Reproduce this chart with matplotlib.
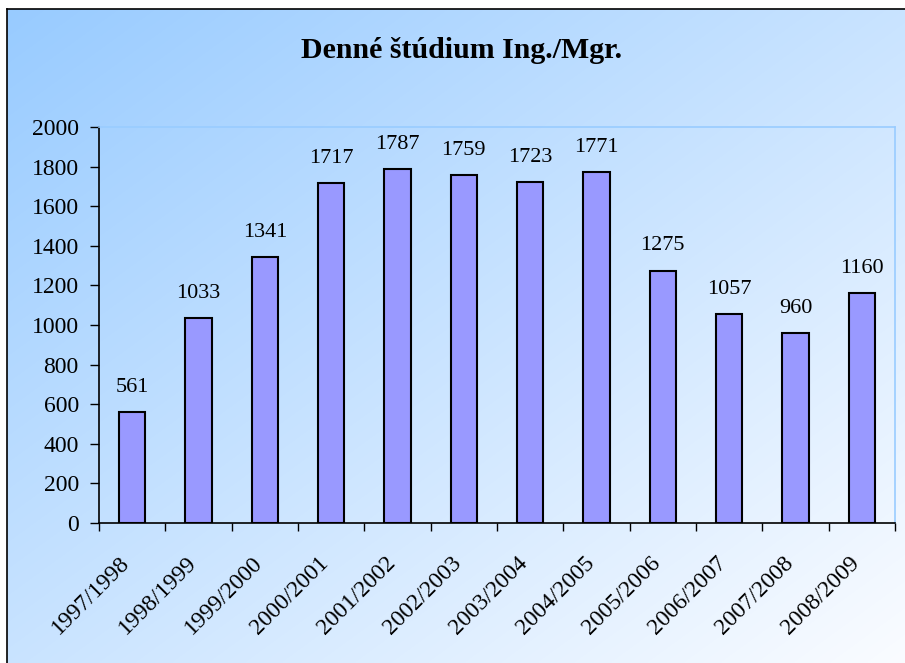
import matplotlib
matplotlib.use("Agg")
import matplotlib.pyplot as plt
import matplotlib.transforms as mtransforms
import numpy as np

years = ["1997/1998", "1998/1999", "1999/2000", "2000/2001", "2001/2002", "2002/2003",
         "2003/2004", "2004/2005", "2005/2006", "2006/2007", "2007/2008", "2008/2009"]
students = [561, 1033, 1341, 1717, 1787, 1759, 1723, 1771, 1275, 1057, 960, 1160]
yticks = [0, 200, 400, 600, 800, 1000, 1200, 1400, 1600, 1800, 2000]
title = "Denné štúdium Ing./Mgr."

W, H = 905, 663
fig = plt.figure(figsize=(W / 100, H / 100), dpi=100)
fig.patch.set_facecolor("white")

# background gradient panel
bg = fig.add_axes([0, 0, 1, 1], zorder=-10)
bg.set_xlim(0, W)
bg.set_ylim(H, 0)
bg.axis("off")
x0, y0 = 7, 9
xs = np.linspace(0, 1, 300)
ys = np.linspace(0, 1, 300)
X, Y = np.meshgrid(xs, ys)
t = (X + Y) / 2.0
c0 = np.array([152, 203, 255]) / 255.0
c1 = np.array([250, 252, 255]) / 255.0
img = c0[None, None, :] * (1 - t[..., None]) + c1[None, None, :] * t[..., None]
bg.imshow(img, extent=[x0, W, H, y0], aspect="auto", interpolation="bilinear")
bg.plot([x0, x0], [H, y0], color="black", lw=1.2)
bg.plot([x0, W], [y0, y0], color="black", lw=1.2)

fig.text(462 / W, 1 - 51 / H, title, ha="center", va="center",
         fontsize=21.5, fontweight="bold", family="Liberation Serif")

ax = fig.add_axes([99 / W, 1 - 523 / H, (895 - 99) / W, (523 - 127) / H])
ax.patch.set_alpha(0)
n = len(years)
pos = np.arange(n)
ax.bar(pos, students, width=0.4, color="#9999FF", edgecolor="black", linewidth=1.5, zorder=3)
ax.set_xlim(-0.5, n - 0.5)
ax.set_ylim(0, 2000)

for p, v in zip(pos, students):
    ax.annotate(str(v), (p, v), xytext=(0, 14.5), textcoords="offset points",
                ha="center", va="baseline", fontsize=16, family="Liberation Serif")

ax.set_yticks(yticks)
ax.set_yticklabels([str(v) for v in yticks], fontsize=17, family="Liberation Serif")
ax.tick_params(axis="y", direction="out", length=6.5, width=1, pad=8, color="black")

# category boundary ticks (major) and labels at centers (minor)
ax.set_xticks(np.arange(n + 1) - 0.5)
ax.set_xticklabels([])
ax.tick_params(axis="x", which="major", direction="out", length=6, width=1, color="black")
ax.set_xticks(pos, minor=True)
ax.set_xticklabels(years, minor=True, rotation=45, ha="right", va="top",
                   rotation_mode="anchor", fontsize=17, family="Liberation Serif")
ax.tick_params(axis="x", which="minor", length=0, pad=21)
offset = mtransforms.ScaledTranslation(-13 / 100, 0, fig.dpi_scale_trans)
for lbl in ax.get_xticklabels(minor=True):
    lbl.set_transform(lbl.get_transform() + offset)

ax.spines["left"].set_color("black")
ax.spines["bottom"].set_color("black")
ax.spines["top"].set_color("#99CCFF")
ax.spines["right"].set_color("#99CCFF")
for s in ax.spines.values():
    s.set_linewidth(1.2)

fig.savefig("out.png", dpi=100)
